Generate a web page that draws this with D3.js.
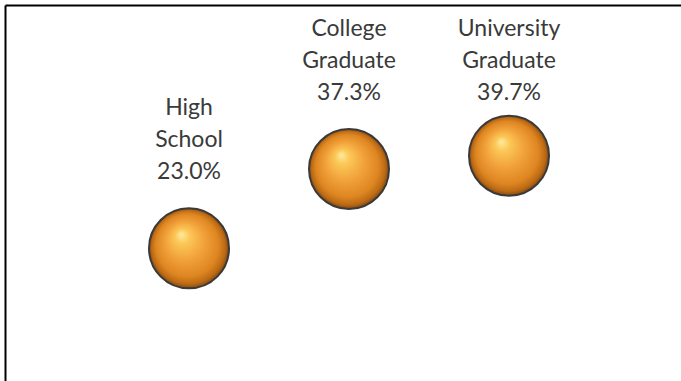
<!DOCTYPE html>
<html>
<head>
<meta charset="utf-8">
<script src="https://cdn.jsdelivr.net/npm/d3@7"></script>
<style>
  html, body { margin: 0; padding: 0; background: #fff; }
  svg { display: block; }
</style>
</head>
<body>
<svg id="chart" width="681" height="381"></svg>
<script>
// Share of respondents by education level
const categories = [["High", "School"], ["College", "Graduate"], ["University", "Graduate"]];
const values = [23.0, 37.3, 39.7];
const positions = [1, 2, 3];

const W = 681, H = 381;
const svg = d3.select("#chart");

const x = d3.scaleLinear().domain([0, 4]).range([29, 669]);
const y = d3.scaleLinear().domain([0, 50]).range([376, 98.5]);
const r = 40;

// Glossy sphere fill
const defs = svg.append("defs");
const grad = defs.append("radialGradient")
  .attr("id", "ball")
  .attr("cx", "50%").attr("cy", "50%").attr("r", "50%")
  .attr("fx", "40%").attr("fy", "32%");
[
  ["0%", "#ffeca0"],
  ["18%", "#fbc858"],
  ["48%", "#f2a23a"],
  ["78%", "#de8622"],
  ["92%", "#bc6a14"],
  ["100%", "#844a10"]
].forEach(([o, c]) => grad.append("stop").attr("offset", o).attr("stop-color", c));

// Chart frame (top and left edges visible)
svg.append("line").attr("x1", 5.5).attr("x2", W).attr("y1", 5.5).attr("y2", 5.5)
  .attr("stroke", "#000").attr("stroke-width", 2);
svg.append("line").attr("x1", 5.5).attr("x2", 5.5).attr("y1", 5.5).attr("y2", H)
  .attr("stroke", "#000").attr("stroke-width", 2);

const data = categories.map((c, i) => ({ label: c, value: values[i], pos: positions[i] }));

const g = svg.append("g").selectAll("g").data(data).join("g");

g.append("circle")
  .attr("cx", d => x(d.pos))
  .attr("cy", d => y(d.value))
  .attr("r", r)
  .attr("fill", "url(#ball)")
  .attr("stroke", "#3a3a3a")
  .attr("stroke-width", 2);

// Labels sit above each sphere, pushed down if they would leave the frame
const lineH = 32;
const firstBaselineMin = 35.7;
g.append("text")
  .attr("text-anchor", "middle")
  .attr("font-family", "Lato, 'Open Sans', sans-serif")
  .attr("font-size", 23)
  .attr("fill", "#3a3a3a")
  .each(function (d) {
    const lines = [...d.label, d.value.toFixed(1) + "%"];
    const n = lines.length - 1;
    const base = Math.max(y(d.value) - r - 29, firstBaselineMin + n * lineH);
    d3.select(this).selectAll("tspan").data(lines).join("tspan")
      .attr("x", x(d.pos))
      .attr("y", (t, i) => base - (n - i) * lineH)
      .text(t => t);
  });
</script>
</body>
</html>
